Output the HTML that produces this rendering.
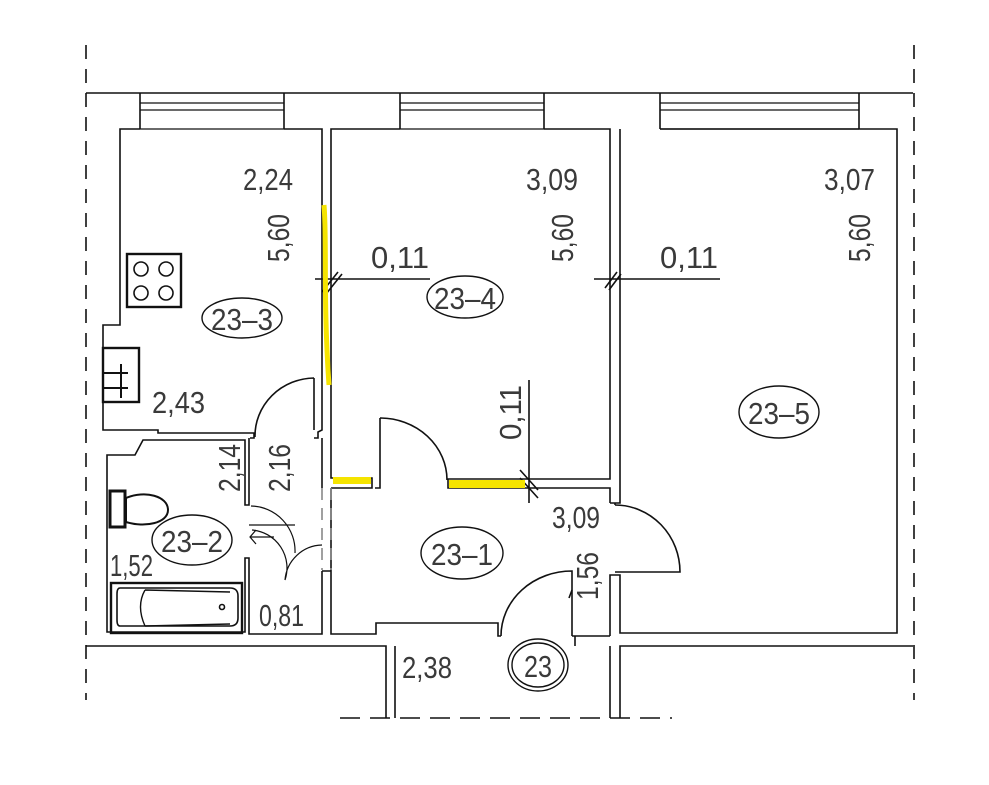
<!DOCTYPE html>
<html><head><meta charset="utf-8"><style>
html,body{margin:0;padding:0;background:#fff}
svg{display:block}
text{font-family:"Liberation Sans Narrow","Liberation Sans",sans-serif;font-size:31px;fill:#3a3a3a;font-weight:normal}
</style></head><body>
<svg width="989" height="785" viewBox="0 0 989 785" xmlns="http://www.w3.org/2000/svg">
<g fill="none" stroke="#111" stroke-width="1.6">
<line x1="86" y1="45" x2="86" y2="700" stroke-dasharray="14,10"/>
<line x1="914" y1="45" x2="914" y2="700" stroke-dasharray="14,10"/>
<line x1="340" y1="718" x2="672" y2="718" stroke-dasharray="20,10"/>
<line x1="86" y1="93" x2="913" y2="93"/>
<path d="M140 93V129M284 93V129M400 93V129M544 93V129M660 93V129M859 93V129"/>
<path d="M140 103H284M140 110H284M400 103H544M400 110H544M660 103H859M660 110H859" stroke-width="1.2"/>
<path d="M140 129H284M400 129H544M660 129H859" stroke-width="1.2"/>
<path d="M284 129H322V430L318 432V438H314"/>
<path d="M140 129H120V325H103V430H158V433H254V438H250"/>
<path d="M400 129H331V478H372V488H331"/>
<path d="M544 129H610V479H448V488H610V503"/>
<path d="M375 488H380V418"/>
<path d="M380 418A67 62 0 0 1 447 480"/>
<path d="M660 129H897V633H620V575H610V636"/>
<path d="M610 503H615V505M620 129V503H615"/>
<path d="M615 572H680A65 67 0 0 0 615 505"/>
<path d="M86 646H386V718M395 718V646M610 646V718M620 718V646H913"/>
<path d="M331 488V634H376V623H498V636H501"/>
<path d="M572 636V571A71 65 0 0 0 501 636"/>
<path d="M572 636H575V646M575 636H610"/>
<path d="M322 438V488" />
<path d="M322 488V570M331 488V570" stroke-dasharray="12,8" stroke="#888"/>
<path d="M322 571H331M322 571V634H249V558H245V632H107V455H135L143 440H245V505H249V438"/>
<path d="M314 378V430M255 437A60 58 0 0 1 314 378"/>
<path d="M251 506A45 45 0 0 1 295 553M249 525H295" stroke-width="1.2"/>
<path d="M252 530A38 38 0 0 1 285 580M322 545A38 38 0 0 0 285 580" stroke-width="1.2"/>
<path d="M256 530L250 537L256 544M250 537H274" stroke-width="1.2"/>
<rect x="127" y="254" width="54" height="53" stroke-width="2.4"/>
<circle cx="141" cy="269" r="7"/><circle cx="166" cy="269" r="7"/>
<circle cx="141" cy="293" r="7"/><circle cx="166" cy="293" r="7"/>
<rect x="103" y="348" width="36" height="54" stroke-width="2.4"/>
<path d="M103 373H128M103 388H128M121 364V398" stroke-width="2"/>
<rect x="110" y="491" width="15" height="36" stroke-width="3"/>
<path d="M126 498C145 490 168 496 168 510C168 523 145 528 126 522Z" stroke-width="2"/>
<rect x="111" y="583" width="131" height="50" stroke-width="2.4"/>
<path d="M120 588H230Q238 588 238 596V618Q238 626 230 626H120Q117 626 117 620V594Q117 588 120 588Z" stroke-width="1.6"/>
<path d="M145 590Q136 606 145 626M145 590L230 592M145 626L230 624" stroke-width="1.4"/>
<circle cx="222" cy="607" r="2.5"/>
<path d="M315 279H430M322 292L338 272M326 294L342 274"/>
<path d="M594 279H720M605 288L617 272M609 290L621 274"/>
<path d="M529 380V503M520 470L538 490M520 478L538 498"/>
<path d="M572 590L569 598"/>
</g>
<path d="M324 205C327 240 323 300 329 385" stroke="#f5e400" stroke-width="5" fill="none"/>
<rect x="333" y="477" width="38" height="7" fill="#f5e400"/>
<rect x="449" y="480" width="76" height="8" fill="#f5e400"/>
<g fill="none" stroke="#111" stroke-width="1.4">
<ellipse cx="242" cy="318" rx="40" ry="20"/>
<ellipse cx="465" cy="297" rx="38" ry="21"/>
<ellipse cx="779" cy="412" rx="40" ry="26"/>
<ellipse cx="192" cy="540" rx="40" ry="25"/>
<ellipse cx="462" cy="553" rx="41" ry="26"/>
<ellipse cx="538" cy="665" rx="30" ry="26"/>
<ellipse cx="538" cy="665" rx="26" ry="22"/>
</g>
<g>
<text x="243" y="190" textLength="50" lengthAdjust="spacingAndGlyphs">2,24</text>
<text x="526" y="190" textLength="52" lengthAdjust="spacingAndGlyphs">3,09</text>
<text x="824" y="190" textLength="51" lengthAdjust="spacingAndGlyphs">3,07</text>
<text x="371" y="268" textLength="58" lengthAdjust="spacingAndGlyphs">0,11</text>
<text x="660" y="268" textLength="58" lengthAdjust="spacingAndGlyphs">0,11</text>
<text x="152" y="413" textLength="53" lengthAdjust="spacingAndGlyphs">2,43</text>
<text x="110" y="576" textLength="43" lengthAdjust="spacingAndGlyphs">1,52</text>
<text x="259" y="626" textLength="45" lengthAdjust="spacingAndGlyphs">0,81</text>
<text x="552" y="528" textLength="48" lengthAdjust="spacingAndGlyphs">3,09</text>
<text x="402" y="678" textLength="50" lengthAdjust="spacingAndGlyphs">2,38</text>
<text x="211" y="330" textLength="62" lengthAdjust="spacingAndGlyphs">23–3</text>
<text x="434" y="309" textLength="62" lengthAdjust="spacingAndGlyphs">23–4</text>
<text x="748" y="424" textLength="62" lengthAdjust="spacingAndGlyphs">23–5</text>
<text x="161" y="552" textLength="62" lengthAdjust="spacingAndGlyphs">23–2</text>
<text x="431" y="565" textLength="62" lengthAdjust="spacingAndGlyphs">23–1</text>
<text x="524" y="677" textLength="28" lengthAdjust="spacingAndGlyphs">23</text>
<text transform="translate(289,262) rotate(-90)" textLength="48" lengthAdjust="spacingAndGlyphs">5,60</text>
<text transform="translate(573,262) rotate(-90)" textLength="48" lengthAdjust="spacingAndGlyphs">5,60</text>
<text transform="translate(870,262) rotate(-90)" textLength="48" lengthAdjust="spacingAndGlyphs">5,60</text>
<text transform="translate(521,440) rotate(-90)" textLength="55" lengthAdjust="spacingAndGlyphs">0,11</text>
<text transform="translate(240,492) rotate(-90)" textLength="48" lengthAdjust="spacingAndGlyphs">2,14</text>
<text transform="translate(290,492) rotate(-90)" textLength="48" lengthAdjust="spacingAndGlyphs">2,16</text>
<text transform="translate(598,600) rotate(-90)" textLength="48" lengthAdjust="spacingAndGlyphs">1,56</text>
</g>
</svg>
</body></html>
